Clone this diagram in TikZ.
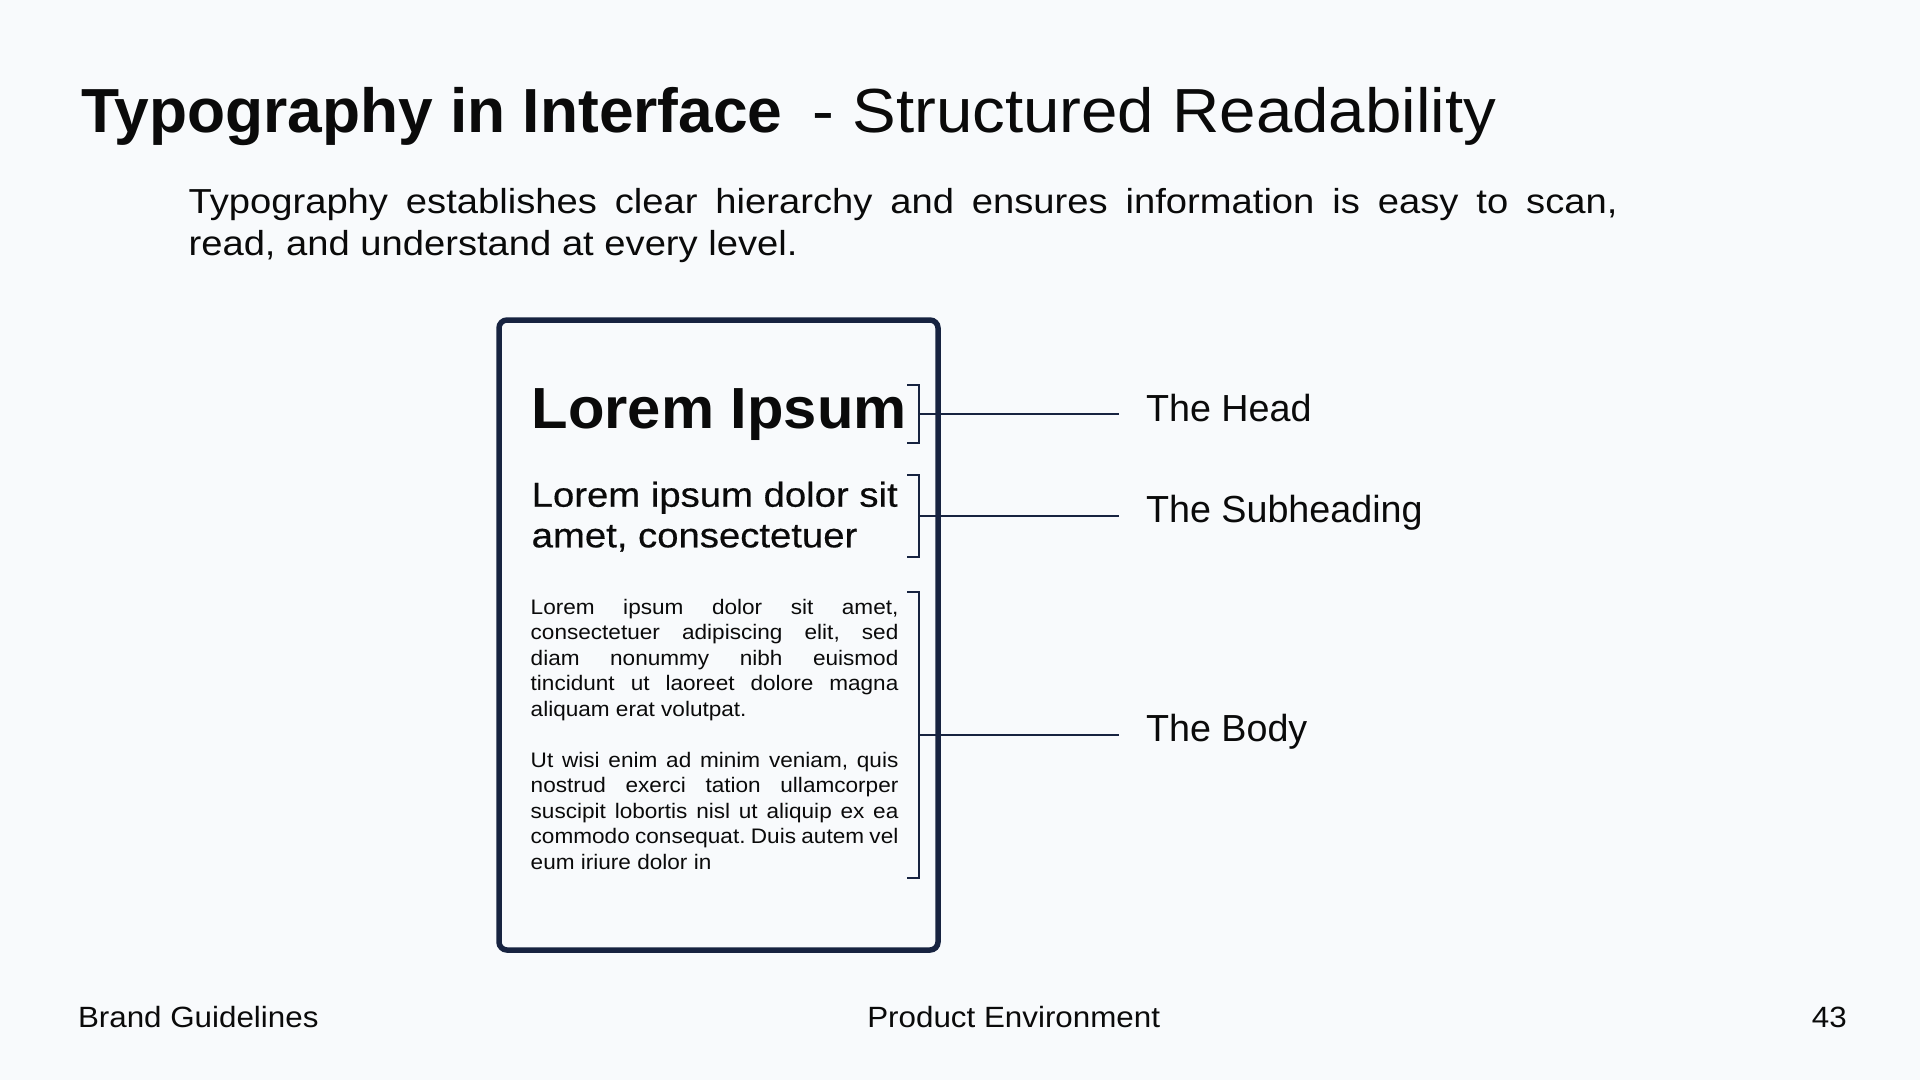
\documentclass[tikz,border=0pt]{standalone}
\usepackage{fontspec}
\setmainfont{Liberation Sans}
\newfontfamily\fsTitleR{Liberation Sans}[FakeStretch=1.05]
\newfontfamily\fsSub{Liberation Sans}[FakeStretch=1.10]
\newfontfamily\fsMed{Liberation Sans}[FakeStretch=1.11, FakeBold=0.5]
\newfontfamily\fsHead{Liberation Sans}[FakeStretch=1.03]
\newfontfamily\fsBody{Liberation Sans}[FakeStretch=1.075]
\newfontfamily\fsFoot{Liberation Sans}[FakeStretch=1.07]
\definecolor{bg}{HTML}{F8FAFC}
\definecolor{navy}{HTML}{172340}
\definecolor{ink}{HTML}{0A0A0A}
\tikzset{
  txt/.style={anchor=base west, inner sep=0pt, outer sep=0pt, text=ink},
  bodyline/.style={txt, font=\fsBody\fontsize{21}{24}\selectfont},
  lbl/.style={txt, font=\fontsize{37.7}{44}\selectfont},
  foot/.style={inner sep=0pt, outer sep=0pt, text=ink, font=\fsFoot\fontsize{29.3}{34}\selectfont},
  brk/.style={draw=navy, line width=2pt},
  conn/.style={draw=navy, line width=2pt},
}
\newcommand{\jline}[1]{\makebox[367.7pt][s]{#1}}
\frenchspacing
\begin{document}
\begin{tikzpicture}[x=1pt,y=-1pt]
\fill[bg] (0,0) rectangle (1920,1080);
\useasboundingbox (0,0) rectangle (1920,1080);

% title
\node[txt, font=\fontsize{62.3}{70}\selectfont] (title) at (81,132)
  {\textbf{Typography in Interface}\hspace{30pt}{\fsTitleR - Structured Readability}};

% subtitle
\node[txt, font=\fsSub\fontsize{34.7}{42}\selectfont] (sub1) at (188.6,213.3)
  {\makebox[1429pt][s]{Typography establishes clear hierarchy and ensures information is easy to scan,}};
\node[txt, font=\fsSub\fontsize{34.7}{42}\selectfont] (sub2) at (188.6,255.5)
  {read, and understand at every level.};

% phone / card
\draw[navy, line width=5.5pt, rounded corners=8pt] (499,320) rectangle (938,950);

% head text
\node[txt, font=\fsHead\fontsize{58}{66}\selectfont\bfseries] (head) at (531.7,428) {Lorem Ipsum};
% subheading text
\node[txt, font=\fsMed\fontsize{34.5}{40}\selectfont] (subh1) at (531.7,506.7) {Lorem ipsum dolor sit};
\node[txt, font=\fsMed\fontsize{34.5}{40}\selectfont] (subh2) at (531.7,547.3) {amet, consectetuer};

% body text
\node[bodyline] (b1) at (530.7,614)   {\jline{Lorem ipsum dolor sit amet,}};
\node[bodyline] (b2) at (530.7,639.5) {\jline{consectetuer adipiscing elit, sed}};
\node[bodyline] (b3) at (530.7,665)   {\jline{diam nonummy nibh euismod}};
\node[bodyline] (b4) at (530.7,690.5) {\jline{tincidunt ut laoreet dolore magna}};
\node[bodyline] (b5) at (530.7,716)   {aliquam erat volutpat.};
\node[bodyline] (b6) at (530.7,767)   {\jline{Ut wisi enim ad minim veniam, quis}};
\node[bodyline] (b7) at (530.7,792.5) {\jline{nostrud exerci tation ullamcorper}};
\node[bodyline] (b8) at (530.7,818)   {\jline{suscipit lobortis nisl ut aliquip ex ea}};
\node[bodyline] (b9) at (530.7,843.5) {\jline{commodo consequat. Duis autem vel}};
\node[bodyline] (b10) at (530.7,869)  {eum iriure dolor in};

% brackets
\draw[brk] (907,385) -- (919,385) -- (919,443) -- (907,443);
\draw[brk] (907,475) -- (919,475) -- (919,557) -- (907,557);
\draw[brk] (907,592) -- (919,592) -- (919,878) -- (907,878);

% connectors
\coordinate (hm) at (919,414);
\coordinate (he) at (1119,414);
\coordinate (sm) at (919,516);
\coordinate (se) at (1119,516);
\coordinate (bm) at (919,735);
\coordinate (be) at (1119,735);
\draw[conn] (hm) -- (he);
\draw[conn] (sm) -- (se);
\draw[conn] (bm) -- (be);

% labels
\node[lbl] (lhead) at (1146,421.7) {The Head};
\node[lbl] (lsub) at (1146,522.7) {The Subheading};
\node[lbl] (lbody) at (1146,741.7) {The Body};

% footer
\node[foot, anchor=base west] (f1) at (78,1027.7) {Brand Guidelines};
\node[foot, anchor=base] (f2) at (1013.7,1027.7) {Product Environment};
\node[foot, anchor=base east] (f3) at (1846.7,1027.7) {43};
\end{tikzpicture}
\end{document}
